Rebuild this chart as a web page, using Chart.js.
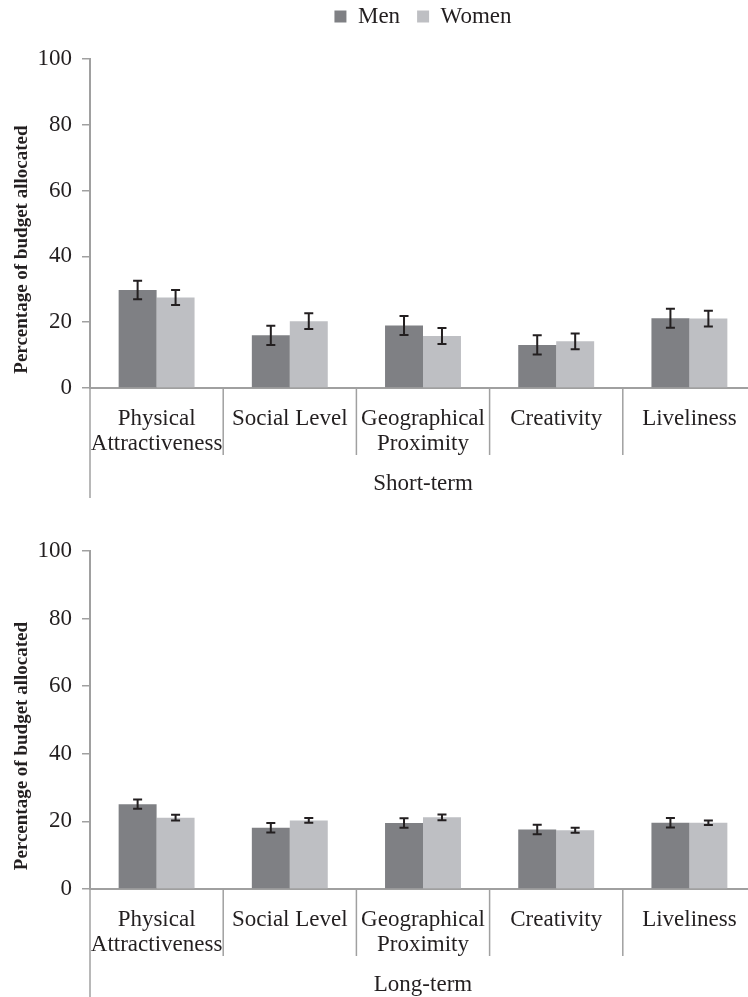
<!DOCTYPE html>
<html lang="en">
<head>
<meta charset="UTF-8">
<title>Budget allocation</title>
<script src="https://cdn.jsdelivr.net/npm/chart.js@4.4.0/dist/chart.umd.min.js"></script>
<style>
*{margin:0;padding:0;box-sizing:border-box;}
html,body{width:748px;height:997px;overflow:hidden;background:#fff;}
#topChart{position:absolute;left:0;top:0;}
#bottomChart{position:absolute;left:0;top:506px;}
</style>
</head>
<body>
<canvas id="topChart" width="760" height="505"></canvas>
<canvas id="bottomChart" width="760" height="500"></canvas>
<script>
// 데이터
const categories = [["Physical","Attractiveness"],"Social Level",["Geographical","Proximity"],"Creativity","Liveliness"];
const seriesNames = ["Men","Women"];
const yTicks = [0,20,40,60,80,100];

const shortMen = [29.8, 16.0, 19.0, 13.1, 21.2];
const shortMenErr = [2.8, 2.9, 2.9, 2.9, 2.9];
const shortWomen = [27.5, 20.3, 15.8, 14.2, 21.1];
const shortWomenErr = [2.3, 2.4, 2.4, 2.4, 2.4];

const longMen = [25.1, 18.1, 19.5, 17.6, 19.6];
const longMenErr = [1.35, 1.4, 1.4, 1.4, 1.4];
const longWomen = [21.1, 20.3, 21.2, 17.4, 19.6];
const longWomenErr = [0.85, 0.7, 0.85, 0.75, 0.7];

const txt = "#231f20";
const axisGray = "#a0a0a0";
const serif = "'Liberation Serif', 'DejaVu Serif', serif";

// 에러바
const errorBars = {
    id:"errorBars",
    afterDatasetsDraw(chart){
        const ctx = chart.ctx, y = chart.scales.y;
        chart.data.datasets.forEach(function(ds,i){
            const meta = chart.getDatasetMeta(i);
            meta.data.forEach(function(bar,j){
                const v = ds.data[j], e = ds.errors[j];
                const t = y.getPixelForValue(v+e), b = y.getPixelForValue(v-e);
                ctx.save();
                ctx.strokeStyle = txt; ctx.lineWidth = 2;
                ctx.beginPath();
                ctx.moveTo(bar.x,t); ctx.lineTo(bar.x,b);
                ctx.moveTo(bar.x-4.5,t); ctx.lineTo(bar.x+4.5,t);
                ctx.moveTo(bar.x-4.5,b); ctx.lineTo(bar.x+4.5,b);
                ctx.stroke();
                ctx.restore();
            });
        });
    }
};

// 카테고리 구분선
const groupLines = {
    id:"groupLines",
    afterDraw(chart){
        const x = chart.scales.x, ctx = chart.ctx, b = chart.chartArea.bottom;
        ctx.save();
        ctx.strokeStyle = axisGray; ctx.lineWidth = 1.5;
        for(let i=0;i<=categories.length;i++){
            const px = x.getPixelForValue(i-0.5);
            ctx.beginPath();
            ctx.moveTo(px,b);
            ctx.lineTo(px,b+(i===0?110:67));
            ctx.stroke();
        }
        ctx.restore();
    }
};

// 범례 아래 여백
const legendGap = {
    id:"legendGap",
    beforeInit(chart){
        const fit = chart.legend.fit;
        chart.legend.fit = function(){
            fit.bind(chart.legend)();
            this.height += 21;
        };
    }
};

function makeChart(id, men, menErr, women, womenErr, group, showLegend, topPad){
    return new Chart(document.getElementById(id),{
        type:"bar",
        plugins:showLegend ? [errorBars, groupLines, legendGap] : [errorBars, groupLines],
        data:{
            labels:categories,
            datasets:[
                {label:seriesNames[0], data:men, errors:menErr, backgroundColor:"#7f8084"},
                {label:seriesNames[1], data:women, errors:womenErr, backgroundColor:"#bebfc3"}
            ]
        },
        options:{
            responsive:false,
            animation:false,
            layout:{padding:{top:topPad,right:4,left:0,bottom:0}},
            datasets:{bar:{barPercentage:1, categoryPercentage:0.57}},
            plugins:{
                tooltip:{enabled:false},
                legend:{
                    display:showLegend,
                    position:"top",
                    fullSize:false,
                    labels:{boxWidth:12, boxHeight:12, padding:17, color:txt, font:{family:serif,size:23}}
                }
            },
            scales:{
                x:{
                    grid:{display:true, drawOnChartArea:false, drawTicks:false},
                    border:{display:true, color:axisGray, width:2},
                    ticks:{color:txt, font:{family:serif,size:23,lineHeight:1.1}, padding:18, autoSkip:false, maxRotation:0, minRotation:0},
                    title:{display:true, text:group, color:txt, font:{family:serif,size:23}, padding:{top:0,bottom:7}},
                    afterFit:function(s){ s.height = 117; }
                },
                y:{
                    min:0, max:100,
                    afterBuildTicks:function(s){ s.ticks = yTicks.map(function(v){ return {value:v}; }); },
                    grid:{drawOnChartArea:false, drawTicks:true, tickLength:8, color:axisGray, lineWidth:1.5},
                    border:{display:true, color:axisGray, width:2},
                    ticks:{color:txt, font:{family:serif,size:23}, padding:10},
                    title:{display:true, text:"Percentage of budget allocated" + "           ", color:txt,
                        font:{family:serif,size:19,weight:"bold"}, padding:{top:11,bottom:0}},
                    afterFit:function(s){ s.width = 90; }
                }
            }
        }
    });
}

makeChart("topChart", shortMen, shortMenErr, shortWomen, shortWomenErr, "Short-term", true, -12);
makeChart("bottomChart", longMen, longMenErr, longWomen, longWomenErr, "Long-term", false, 45);
</script>
</body>
</html>
